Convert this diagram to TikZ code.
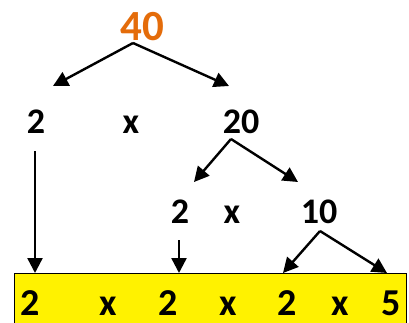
\documentclass[tikz,border=0pt]{standalone}
\usepackage{fontspec}
\setmainfont{Carlito}
\usepackage{tikz}
\usetikzlibrary{arrows.meta}
\definecolor{rootorange}{HTML}{E46C0A}

\begin{document}
\begin{tikzpicture}[x=1pt,y=-1pt,
		num/.style={font=\bfseries\fontsize{36}{36}\selectfont, inner sep=0pt, anchor=base},
		arr/.style={-{Triangle[length=15pt,width=15pt]}, line width=2.4pt}]
		\useasboundingbox (0,0) rectangle (409,322);
		
		% Result box
		\draw[fill=yellow, line width=1pt] (14,273) rectangle (406,330);
		
		% Numbers
		\node[num, font=\bfseries\fontsize{43}{43}\selectfont, text=rootorange] (n40) at (142,40) {40};
		\node[num] (twoA) at (36,133) {2};
		\node[num] (timesA) at (131,133) {x};
		\node[num] (n20) at (241,133) {20};
		\node[num] (twoB) at (180,223) {2};
		\node[num] (timesB) at (232,223) {x};
		\node[num] (n10) at (319,223) {10};
		
		% Bottom row
		\node[num, font=\bfseries\fontsize{38}{38}\selectfont] (b1) at (30,315) {2};
		\node[num, font=\bfseries\fontsize{38}{38}\selectfont] (b2) at (108,315) {x};
		\node[num, font=\bfseries\fontsize{38}{38}\selectfont] (b3) at (168,315) {2};
		\node[num, font=\bfseries\fontsize{38}{38}\selectfont] (b4) at (228,315) {x};
		\node[num, font=\bfseries\fontsize{38}{38}\selectfont] (b5) at (287,315) {2};
		\node[num, font=\bfseries\fontsize{38}{38}\selectfont] (b6) at (340,315) {x};
		\node[num, font=\bfseries\fontsize{38}{38}\selectfont] (b7) at (391,315) {5};
		
		% Branch points
		\coordinate (top40) at (133,43);
		\coordinate (top20) at (231,139);
		\coordinate (top10) at (320,231);
		\coordinate (downA) at (35,151);
		\coordinate (downB) at (179,240);
		
		% Arrow ends
		\coordinate (endL40) at (53,86);
		\coordinate (endR40) at (229,86);
		\coordinate (endL20) at (194,182);
		\coordinate (endR20) at (298,182);
		\coordinate (endA) at (35,273);
		\coordinate (endB) at (179,273);
		\coordinate (endL10) at (283,273);
		\coordinate (endR10) at (387,273);
		
		% Arrows
		\draw[arr] (top40) -- (endL40);
		\draw[arr] (top40) -- (endR40);
		\draw[arr] (top20) -- (endL20);
		\draw[arr] (top20) -- (endR20);
		\draw[arr] (downA) -- (endA);
		\draw[arr] (downB) -- (endB);
		\draw[arr] (top10) -- (endL10);
		\draw[arr] (top10) -- (endR10);
		
	\end{tikzpicture}
\end{document}
